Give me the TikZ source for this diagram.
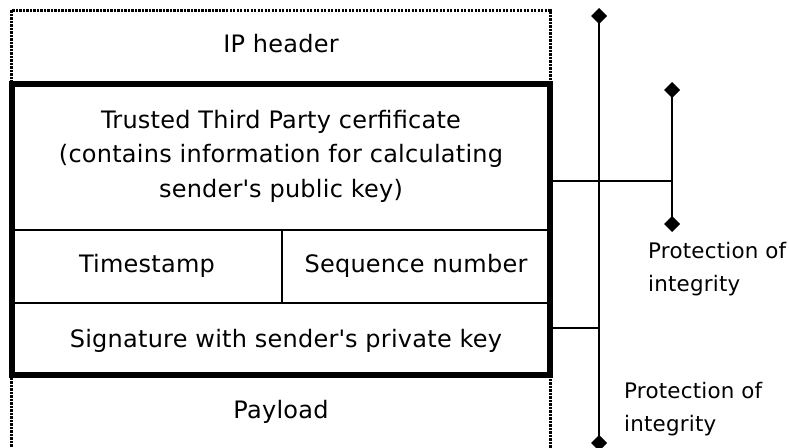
\documentclass[tikz,border=0pt]{standalone}
\usepackage{fontspec}
\setmainfont{DejaVu Sans}[LetterSpace=1]
\usetikzlibrary{arrows.meta}

\tikzset{
  label/.style={inner sep=0pt, anchor=base, font=\fontsize{24}{34.5}\selectfont},
  side label/.style={inner sep=0pt, anchor=base west, align=left, font=\fontsize{21.4}{33}\selectfont},
  thin line/.style={line width=2pt},
  dotline/.style={line width=3pt, dash pattern=on 2.4pt off 1.1pt},
  tipped/.style={line width=2pt, {Diamond[width=16pt,length=16pt]}-{Diamond[width=16pt,length=16pt]}}
}

\begin{document}
\begin{tikzpicture}[x=1pt,y=-1pt]
\useasboundingbox (0,0) rectangle (789,447);

% outer packet (dotted)
\draw[dotline] (11.5,450) -- (11.5,10) -- (550,10) -- (550,450);

% inner fields
\draw[thin line] (11.5,230) -- (550,230);
\draw[thin line] (11.5,303) -- (550,303);
\draw[thin line] (282,230) -- (282,303);
\draw[line width=6pt] (11.5,83.5) rectangle (550,374.5);

% texts (multi-line nodes sit on their last baseline)
\node[label] (ip) at (281,52.5) {IP header};
\node[label, align=center] (ttp) at (281,197) {Trusted Third Party cerfificate\\(contains information for calculating\\sender\textquotesingle s public key)};
\node[label] (stamp) at (147,272) {Timestamp};
\node[label] (seqno) at (416,272) {Sequence number};
\node[label] (sig) at (286,347) {Signature with sender\textquotesingle s private key};
\node[label] (payload) at (281,418) {Payload};
\node[side label] (prot1) at (648,291) {Protection of\\integrity};
\node[side label] (prot2) at (624,431) {Protection of\\integrity};

% integrity brackets
\coordinate (longtop) at (599,8);
\coordinate (longbot) at (599,451);
\coordinate (shorttop) at (672,82);
\coordinate (shortbot) at (672,232);
\draw[tipped] (longtop) -- (longbot);
\draw[tipped] (shorttop) -- (shortbot);
\draw[thin line] (550,181) -- (672,181);
\draw[thin line] (550,328) -- (599,328);
\end{tikzpicture}
\end{document}
